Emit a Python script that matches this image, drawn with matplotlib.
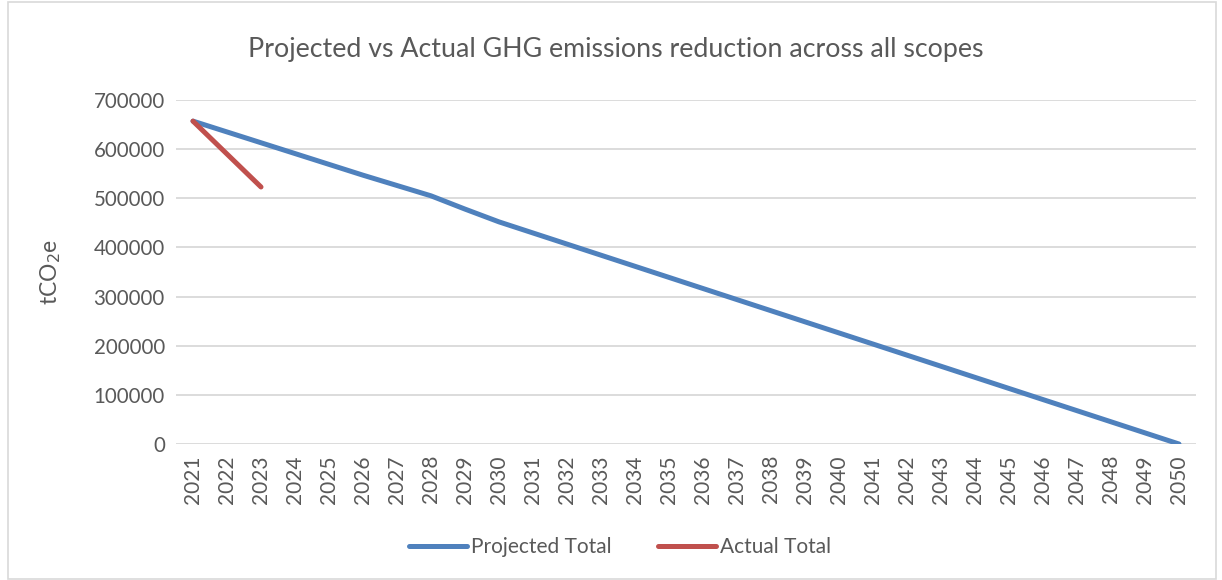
import matplotlib.pyplot as plt
from matplotlib.patches import Rectangle

years = [str(y) for y in range(2021, 2051)]
projected = [657000, 635000, 613000, 591000, 569000, 547000, 526000, 505000,
             478000, 452000, 429400, 406800, 384200, 361600, 339000, 316400,
             293800, 271200, 248600, 226000, 203400, 180800, 158200, 135600,
             113000, 90400, 67800, 45200, 22600, 0]
actual_years = ['2021', '2022', '2023']
actual = [657000, 590000, 523000]

plt.rcParams['font.family'] = ['Lato', 'DejaVu Sans']
txt = '#595959'

fig = plt.figure(figsize=(12.22, 5.8), dpi=100)
ax = fig.add_axes([176 / 1222, 1 - 444 / 580, 1020 / 1222, 344 / 580])

x = list(range(len(years)))
ax.plot(x, projected, color='#4F81BD', lw=3.6, solid_capstyle='round', label='Projected Total')
ax.plot(x[:len(actual)], actual, color='#C0504D', lw=3.6, solid_capstyle='round', label='Actual Total')

ax.set_xlim(-0.5, len(years) - 0.5)
ax.set_ylim(0, 700000)
ax.set_yticks(range(0, 700001, 100000))
ax.set_yticklabels([str(v) for v in range(0, 700001, 100000)], fontsize=14.8, color=txt)
ax.set_xticks(x)
ax.set_xticklabels(years, rotation=90, fontsize=15, color=txt)
ax.tick_params(length=0, pad=8)
ax.grid(axis='y', color='#D9D9D9', lw=1.3)
ax.set_axisbelow(True)
for s in ax.spines.values():
    s.set_visible(False)

ax.set_ylabel('tCO$_2$e', fontsize=16.5, color=txt, labelpad=22)
fig.text(616 / 1222, 1 - 50 / 580, 'Projected vs Actual GHG emissions reduction across all scopes',
         ha='center', va='center', fontsize=19.3, color=txt)

fig.legend(loc='center', bbox_to_anchor=(620 / 1222, 1 - 547 / 580), ncol=2, frameon=False,
           fontsize=15, labelcolor=txt, handlelength=2.8, handletextpad=0.2, columnspacing=2.2)

fig.patches.append(Rectangle((8 / 1222, 0.002), 1208 / 1222, 0.994, transform=fig.transFigure,
                             fill=False, edgecolor='#D9D9D9', lw=1.2))

fig.savefig('out.png', dpi=100)
